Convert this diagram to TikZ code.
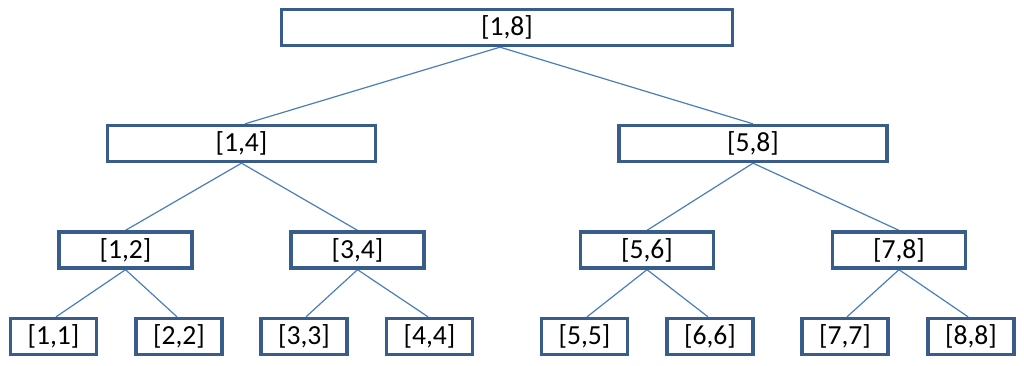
\documentclass[tikz,border=0pt]{standalone}
\usepackage{fontspec}
\setmainfont{Carlito}
\usetikzlibrary{backgrounds}
\definecolor{boxblue}{HTML}{385D8A}
\definecolor{lineblue}{HTML}{4A7EBB}
\tikzset{
  seg/.style={draw=boxblue, line width=2.5pt, fill=white, inner sep=0pt,
    font=\fontsize{20.7}{24}\selectfont, text=black},
  big/.style={seg, minimum width=268*0.75pt, minimum height=36*0.75pt},
  mid/.style={seg, minimum width=133*0.75pt, minimum height=36*0.75pt},
  leaf/.style={seg, minimum width=86*0.75pt, minimum height=36*0.75pt},
  link/.style={draw=lineblue, line width=0.9pt}
}
\begin{document}
\begin{tikzpicture}[x=0.75pt,y=-0.75pt]
\useasboundingbox (0,0) rectangle (1024,365);
\node[seg, minimum width=451*0.75pt, minimum height=36*0.75pt] (r) at (507,27.5) {[1,8]};
\node[big] (a) at (241.5,143.5) {[1,4]};
\node[big] (b) at (753,143.5) {[5,8]};
\node[mid] (a1) at (125.5,250) {[1,2]};
\node[mid] (a2) at (357.5,250) {[3,4]};
\node[mid] (b1) at (647,250) {[5,6]};
\node[mid] (b2) at (899,250) {[7,8]};
\node[leaf] (l1) at (53.5,336.5) {[1,1]};
\node[leaf] (l2) at (179,336.5) {[2,2]};
\node[leaf] (l3) at (304,336.5) {[3,3]};
\node[leaf] (l4) at (429.5,336.5) {[4,4]};
\node[leaf] (l5) at (584.5,336.5) {[5,5]};
\node[leaf] (l6) at (710,336.5) {[6,6]};
\node[leaf] (l7) at (845,336.5) {[7,7]};
\node[leaf] (l8) at (971,336.5) {[8,8]};
\begin{pgfonlayer}{background}
\draw[link] ([xshift=-5.25pt]r.south) -- ([xshift=2.6pt]a.north);
\draw[link] ([xshift=-5.25pt]r.south) -- (b.north);
\draw[link] (a.south) -- (a1.north);
\draw[link] (a.south) -- (a2.north);
\draw[link] (b.south) -- (b1.north);
\draw[link] (b.south) -- (b2.north);
\draw[link] (a1.south) -- ([xshift=1.9pt]l1.north);
\draw[link] (a1.south) -- ([xshift=-1.5pt]l2.north);
\draw[link] (a2.south) -- ([xshift=1.5pt]l3.north);
\draw[link] (a2.south) -- ([xshift=-1.1pt]l4.north);
\draw[link] (b1.south) -- ([xshift=1.9pt]l5.north);
\draw[link] (b1.south) -- ([xshift=-1.5pt]l6.north);
\draw[link] (b2.south) -- ([xshift=1.5pt]l7.north);
\draw[link] (b2.south) -- ([xshift=-2.2pt]l8.north);
\end{pgfonlayer}
\end{tikzpicture}
\end{document}
